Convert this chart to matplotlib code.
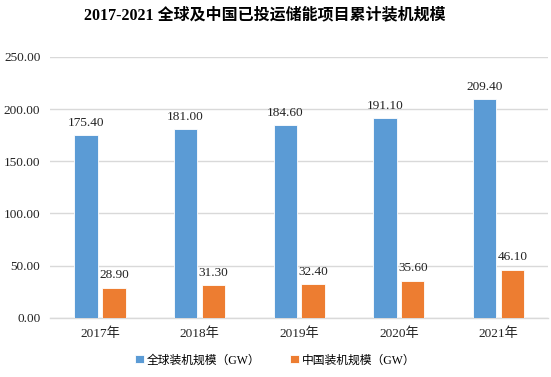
import matplotlib.pyplot as plt
import numpy as np

years = ['2017年', '2018年', '2019年', '2020年', '2021年']
global_gw = [175.40, 181.00, 184.60, 191.10, 209.40]
china_gw = [28.90, 31.30, 32.40, 35.60, 46.10]
series_names = ['全球装机规模（GW）', '中国装机规模（GW）']
yticks = [0, 50, 100, 150, 200, 250]

fam = ['Liberation Serif', 'Noto Sans CJK SC']
plt.rcParams['font.family'] = fam

fig = plt.figure(figsize=(5.51, 3.77), dpi=100)
ax = fig.add_axes([0.091, 0.157, 0.904, 0.692])

x = np.arange(len(years))
w = 0.235
b1 = ax.bar(x - 0.14, global_gw, w, color='#5B9BD5', edgecolor='white', linewidth=0.6,
            label=series_names[0], zorder=3)
b2 = ax.bar(x + 0.14, china_gw, w, color='#ED7D31', edgecolor='white', linewidth=0.6,
            label=series_names[1], zorder=3)

for bars in (b1, b2):
    for r in bars:
        ax.text(r.get_x() + r.get_width() / 2, r.get_height() + 6, '%.2f' % r.get_height(),
                ha='center', va='bottom', fontsize=9.5, color='#222222')

ax.set_xlim(-0.5, len(years) - 0.5)
ax.set_ylim(0, 250)
ax.set_yticks(yticks)
ax.set_yticklabels(['%.2f' % v for v in yticks])
ax.set_xticks(x)
ax.set_xticklabels(years)
ax.tick_params(axis='both', length=0, labelsize=9.5, colors='#222222')
ax.tick_params(axis='y', pad=7)
ax.tick_params(axis='x', pad=7)
ax.grid(axis='y', color='#D9D9D9', linewidth=1, zorder=0)
for s in ['top', 'right', 'left']:
    ax.spines[s].set_visible(False)
ax.spines['bottom'].set_color('#D9D9D9')
ax.spines['bottom'].set_linewidth(1)

fig.suptitle('2017-2021 全球及中国已投运储能项目累计装机规模', x=0.48, y=0.98,
             fontsize=11.5, fontweight='bold')

fig.legend(handles=[b1, b2], loc='lower center', bbox_to_anchor=(0.5, 0.0), ncol=2,
           frameon=False, fontsize=8.5, handlelength=0.7, handleheight=0.7,
           handletextpad=0.3, columnspacing=2.5)

fig.savefig('out.png', dpi=100)
